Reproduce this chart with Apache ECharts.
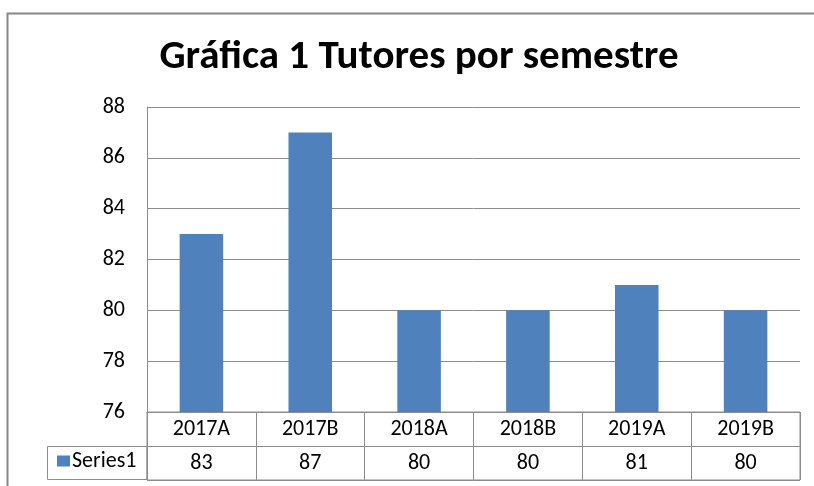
<!DOCTYPE html>
<html lang="es">
<head>
    <meta charset="utf-8">
    <title>Gráfica 1 Tutores por semestre</title>
    <style>
* {
  margin: 0;
  padding: 0;
}
#chart-container {
  position: relative;
  width: 814px;
  height: 486px;
  overflow: hidden;
  background: #fff;
}
    </style>
</head>
<body>
<div id="chart-container"></div>
<script src="https://cdn.jsdelivr.net/npm/echarts@6/dist/echarts.min.js"></script>
<script>
// data
const categories = ['2017A', '2017B', '2018A', '2018B', '2019A', '2019B'];
const tutores = [83, 87, 80, 80, 81, 80];
const seriesName = 'Series1';

const font = "Calibri, Carlito, 'Liberation Sans Narrow', sans-serif";
const lineColor = '#8c8c8c';

var dom = document.getElementById('chart-container');
var myChart = echarts.init(dom, null, { renderer: 'canvas' });

var option = {
  animation: false,
  textStyle: { fontFamily: font },
  title: {
    text: 'Gráfica 1 Tutores por semestre',
    left: 414,
    textAlign: 'center',
    top: 32,
    textStyle: { fontFamily: font, fontSize: 41, fontWeight: 'bold', color: '#000' }
  },
  legend: {
    left: 57,
    top: 450,
    padding: 0,
    itemWidth: 13,
    itemHeight: 11,
    itemGap: 4,
    icon: 'rect',
    textStyle: { fontFamily: font, fontSize: 22, color: '#000', padding: [0, 0, 0, -3] },
    data: [seriesName]
  },
  grid: [
    { left: 147, top: 107, width: 653, height: 305 },
    { left: 147, top: 412, width: 653, height: 68, show: true, borderColor: lineColor, borderWidth: 1 }
  ],
  xAxis: [
    {
      type: 'category',
      gridIndex: 0,
      data: categories,
      axisLine: { lineStyle: { color: lineColor } },
      axisTick: { show: false },
      axisLabel: { margin: 6, fontSize: 22, color: '#000', fontFamily: font }
    },
    {
      type: 'category',
      gridIndex: 0,
      position: 'bottom',
      offset: 34,
      data: tutores.map(String),
      axisLine: { show: false },
      axisTick: { show: false },
      axisLabel: { margin: 6, fontSize: 22, color: '#000', fontFamily: font }
    },
    {
      type: 'category',
      gridIndex: 1,
      data: categories,
      axisLine: { show: false },
      axisTick: { show: false },
      axisLabel: { show: false },
      splitLine: { show: true, interval: 0, lineStyle: { color: lineColor } }
    }
  ],
  yAxis: [
    {
      type: 'value',
      gridIndex: 0,
      min: 76,
      max: 88,
      interval: 2,
      axisLine: { show: true, lineStyle: { color: lineColor } },
      axisTick: { show: false },
      axisLabel: { margin: 22, fontSize: 22, color: '#000', fontFamily: font },
      splitLine: { lineStyle: { color: lineColor } }
    },
    {
      type: 'value',
      gridIndex: 1,
      min: 0,
      max: 2,
      interval: 1,
      axisLine: { show: false },
      axisTick: { show: false },
      axisLabel: { show: false },
      splitLine: { show: true, lineStyle: { color: lineColor } }
    }
  ],
  graphic: [
    // outer chart border (top and left edges visible)
    { type: 'polyline', shape: { points: [[7.5, 486], [7.5, 13.5], [814, 13.5]] }, style: { fill: null, stroke: '#878787', lineWidth: 2 }, silent: true },
    // legend key cell of the data table
    { type: 'rect', shape: { x: 47.5, y: 446.5, width: 99.5, height: 33 }, style: { fill: null, stroke: lineColor, lineWidth: 1 }, silent: true }
  ],
  series: [
    {
      name: seriesName,
      type: 'bar',
      xAxisIndex: 0,
      yAxisIndex: 0,
      barWidth: '40%',
      itemStyle: { color: '#4f81bd' },
      data: tutores
    }
  ]
};

myChart.setOption(option);
window.addEventListener('resize', myChart.resize);
</script>
</body>
</html>
